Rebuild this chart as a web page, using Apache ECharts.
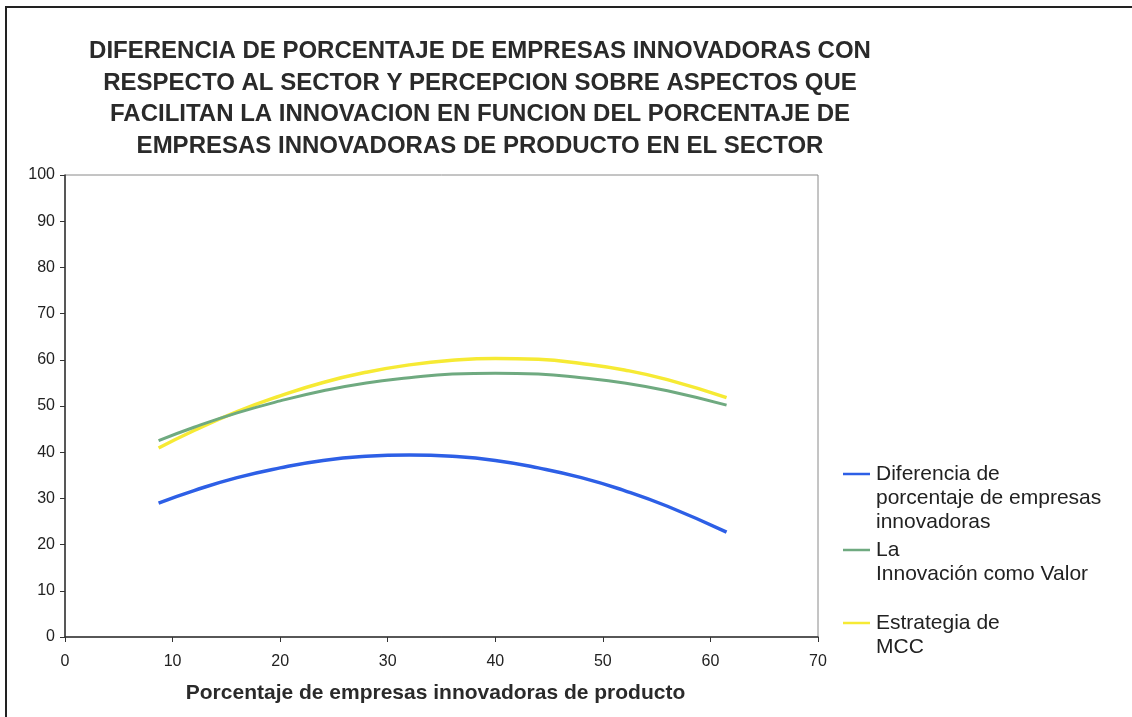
<!DOCTYPE html>
<html>
<head>
<meta charset="utf-8">
<script src="https://cdn.jsdelivr.net/npm/echarts@6/dist/echarts.min.js"></script>
<style>
  html, body { margin: 0; padding: 0; background: #fff; }
  #chart { width: 1132px; height: 717px; }
</style>
</head>
<body>
<div id="chart"></div>
<script>
// Percentage of product-innovating firms in the sector (x axis)
const xValues = [8.7, 12, 16, 20, 24, 28, 32, 36, 40, 44, 48, 52, 56, 61.5];

// Trend values for each series
const diferencia = [29.0, 31.7, 34.5, 36.6, 38.2, 39.1, 39.4, 39.1, 38.2, 36.6, 34.5, 31.7, 28.3, 22.7];
const innovacionValor = [42.5, 45.4, 48.5, 51.1, 53.3, 55.0, 56.1, 56.9, 57.1, 56.9, 56.1, 55.0, 53.3, 50.2];
const estrategiaMCC = [40.9, 44.7, 48.8, 52.2, 55.1, 57.3, 58.9, 59.9, 60.3, 60.1, 59.2, 57.8, 55.7, 51.8];

const seriesNames = [
  'Diferencia de\nporcentaje de empresas\ninnovadoras',
  'La\nInnovación como Valor',
  'Estrategia de\nMCC'
];
const seriesColors = ['#2d5fe6', '#6faa80', '#f6ea34'];
const seriesWidths = [3.5, 3, 3.5];
const seriesData = [diferencia, innovacionValor, estrategiaMCC];

const titleText = 'DIFERENCIA DE PORCENTAJE DE EMPRESAS INNOVADORAS CON\n' +
  'RESPECTO AL SECTOR Y PERCEPCION SOBRE ASPECTOS QUE\n' +
  'FACILITAN LA INNOVACION EN FUNCION DEL PORCENTAJE DE\n' +
  'EMPRESAS INNOVADORAS DE PRODUCTO EN EL SECTOR';
const xAxisTitle = 'Porcentaje de empresas innovadoras de producto';

const FONT = '"Liberation Sans", Arial, sans-serif';

// Legend block: line key beside the first text line of each entry
const LEGEND_X = 843;
const LEGEND_KEY_W = 27;
const LEGEND_LH = 24;
const LEGEND_ROWS = [474, 550, 623];

const chart = echarts.init(document.getElementById('chart'), null, { renderer: 'canvas' });

const legendGraphics = [];
seriesNames.forEach(function (name, i) {
  const y = LEGEND_ROWS[i];
  legendGraphics.push({
    type: 'line',
    silent: true,
    shape: { x1: LEGEND_X, y1: y, x2: LEGEND_X + LEGEND_KEY_W, y2: y },
    style: { stroke: seriesColors[i], lineWidth: 2.5 }
  });
  legendGraphics.push({
    type: 'text',
    silent: true,
    x: LEGEND_X + LEGEND_KEY_W + 6,
    y: y - LEGEND_LH / 2,
    style: {
      text: name,
      fontFamily: FONT,
      fontSize: 21,
      lineHeight: LEGEND_LH,
      fill: '#222',
      align: 'left',
      verticalAlign: 'top'
    }
  });
});

chart.setOption({
  backgroundColor: '#ffffff',
  animation: false,
  title: {
    text: titleText,
    left: 480,
    top: 36,
    textAlign: 'center',
    padding: 0,
    textStyle: {
      fontFamily: FONT,
      fontWeight: 'bold',
      fontSize: 24,
      lineHeight: 31.5,
      color: '#2a2a2a'
    }
  },
  grid: {
    left: 65,
    top: 175,
    right: 314,
    bottom: 80,
    show: true,
    borderColor: '#8a8a8a',
    borderWidth: 1,
    backgroundColor: 'transparent'
  },
  xAxis: {
    type: 'value',
    min: 0,
    max: 70,
    interval: 10,
    name: xAxisTitle,
    nameLocation: 'middle',
    nameGap: 46,
    nameTextStyle: {
      fontFamily: FONT,
      fontWeight: 'bold',
      fontSize: 21,
      color: '#2a2a2a',
      padding: [0, 12, 0, 0]
    },
    axisLine: { show: true, onZero: false, lineStyle: { color: '#333', width: 1.5 } },
    axisTick: { show: true, inside: false, length: 5, lineStyle: { color: '#333' } },
    axisLabel: { margin: 17, fontFamily: FONT, fontSize: 16, color: '#222' },
    splitLine: { show: false }
  },
  yAxis: {
    type: 'value',
    min: 0,
    max: 100,
    interval: 10,
    axisLine: { show: true, onZero: false, lineStyle: { color: '#333', width: 1.5 } },
    axisTick: { show: true, inside: false, length: 5, lineStyle: { color: '#333' } },
    axisLabel: { margin: 10, fontFamily: FONT, fontSize: 16, color: '#222' },
    splitLine: { show: false }
  },
  series: seriesNames.map(function (name, i) {
    return {
      name: name,
      type: 'line',
      smooth: 0.5,
      showSymbol: false,
      symbol: 'none',
      color: seriesColors[i],
      lineStyle: { color: seriesColors[i], width: seriesWidths[i] },
      data: xValues.map(function (x, j) { return [x, seriesData[i][j]]; }),
      z: 3 - i
    };
  }),
  graphic: [
    {
      type: 'polyline',
      silent: true,
      shape: { points: [[6, 720], [6, 7], [1140, 7]] },
      style: { stroke: '#222', lineWidth: 2, fill: null }
    }
  ].concat(legendGraphics)
});
</script>
</body>
</html>
